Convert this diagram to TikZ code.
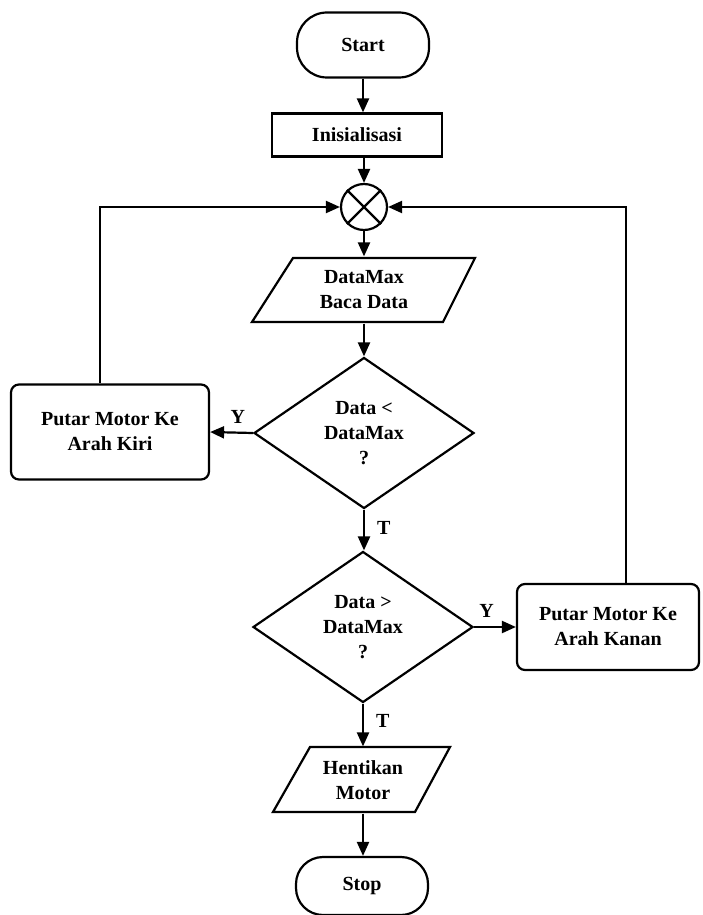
\documentclass[tikz,border=0pt]{standalone}
\usepackage{fontspec}
\setmainfont{Liberation Serif}
\usetikzlibrary{shapes.geometric,arrows.meta}
\begin{document}
\begin{tikzpicture}[x=1pt,y=-1pt,line width=2.2pt,
  every node/.style={font=\bfseries\fontsize{20}{25}\selectfont,align=center,inner sep=0pt},
  arr/.style={-{Triangle[length=14pt,width=12pt]}},
  term/.style={draw,rounded corners=30pt,minimum width=132pt,minimum height=65pt},
  procbox/.style={draw,rounded corners=8pt,minimum height=95pt},
  decis/.style={draw,diamond,minimum width=220pt,minimum height=151pt},
  ioanchor/.style={minimum width=150pt,minimum height=65pt},
  lbl/.style={font=\bfseries\fontsize{20}{24}\selectfont}]
\useasboundingbox (0,0) rectangle (702,915);

% nodes
\node[term] (start) at (363,45) {Start};
\node[draw,minimum width=170pt,minimum height=43pt] (init) at (357,135) {Inisialisasi};
\node[draw,circle,minimum size=46pt] (sum) at (364,207) {};
\draw (sum.north west) -- (sum.south east) (sum.north east) -- (sum.south west);

\node[ioanchor] (read) at (364,290) {DataMax\\Baca Data};
\draw (293,258) -- (475,258) -- (443,322) -- (252,322) -- cycle;

\node[decis] (d1) at (364,433) {Data <\\DataMax\\?};
\node[decis] (d2) at (363,627) {Data >\\DataMax\\?};

\node[procbox,minimum width=198pt] (left) at (110,432) {Putar Motor Ke\\Arah Kiri};
\node[procbox,minimum width=182pt,minimum height=86pt] (right) at (608,627) {Putar Motor Ke\\Arah Kanan};

\node[ioanchor] (stopio) at (363,780) {Hentikan\\Motor};
\draw (310,747) -- (450,747) -- (415,812) -- (273,812) -- cycle;

\node[term,minimum height=58pt,rounded corners=27pt] (stop) at (362,886) {Stop};

% connectors
\draw[arr] (start.south) -- (start.south |- init.north);
\draw[arr] (sum.north |- init.south) -- (sum.north);
\draw[arr] (sum) -- (read);
\draw[arr] (read.south) -- (d1.north);
\draw[arr] (d1.south) -- node[lbl,right=12pt,pos=0.45] {T} (d1.south |- d2.north);
\draw[arr] (d1.west) -- node[lbl,above=8pt,pos=0.35] {Y} (left.east);
\draw[arr] (d2.east) -- node[lbl,above=8pt,pos=0.3] {Y} (right.west);
\draw[arr] (d2.south) -- node[lbl,right=12pt,pos=0.4] {T} (stopio.north);
\draw[arr] (stopio.south) -- (stopio.south |- stop.north);
\draw[arr] ([xshift=-10pt]left.north) |- (sum.west);
\draw[arr] ([xshift=18pt]right.north) |- (sum.east);
\end{tikzpicture}
\end{document}
